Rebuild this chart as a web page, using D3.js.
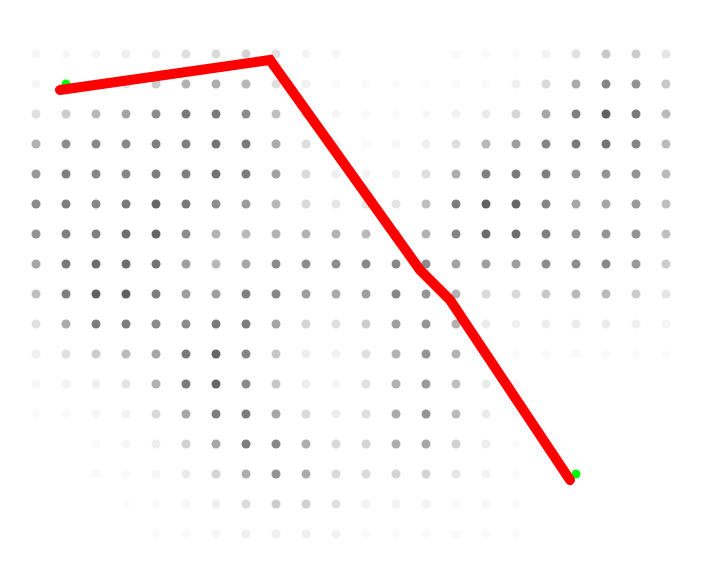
<!DOCTYPE html>
<html>
<head>
<meta charset="utf-8">
<script src="https://cdn.jsdelivr.net/npm/d3@7"></script>
<style>
html,body{margin:0;padding:0;background:#fff;}
svg{display:block;}
</style>
</head>
<body>
<svg id="chart" width="720" height="570"></svg>
<script>
// Grid of cell intensities (rows top to bottom, 22 columns each)
const columns = d3.range(22);
const rows = d3.range(17);
const intensity = [
  [0.03,0.03,0.04,0.06,0.08,0.12,0.15,0.17,0.12,0.04,0.03,0.00,0.00,0.00,0.02,0.02,0.02,0.05,0.12,0.22,0.20,0.10],
  [0.04,0.10,0.15,0.12,0.20,0.30,0.32,0.28,0.12,0.05,0.02,0.02,0.02,0.01,0.02,0.02,0.06,0.15,0.33,0.47,0.42,0.22],
  [0.12,0.20,0.28,0.36,0.45,0.52,0.52,0.45,0.25,0.12,0.04,0.02,0.02,0.03,0.05,0.08,0.16,0.35,0.50,0.62,0.52,0.27],
  [0.30,0.45,0.47,0.47,0.50,0.50,0.55,0.52,0.33,0.13,0.06,0.02,0.03,0.06,0.13,0.28,0.38,0.48,0.52,0.55,0.48,0.27],
  [0.40,0.50,0.48,0.48,0.50,0.50,0.55,0.51,0.37,0.15,0.06,0.05,0.05,0.13,0.32,0.50,0.52,0.50,0.42,0.42,0.42,0.27],
  [0.45,0.50,0.47,0.52,0.60,0.52,0.45,0.39,0.28,0.15,0.10,0.10,0.10,0.25,0.50,0.62,0.60,0.48,0.35,0.35,0.40,0.25],
  [0.42,0.50,0.50,0.57,0.60,0.45,0.30,0.28,0.30,0.30,0.30,0.28,0.30,0.30,0.48,0.58,0.57,0.50,0.42,0.42,0.42,0.25],
  [0.35,0.53,0.57,0.57,0.55,0.38,0.28,0.35,0.45,0.45,0.45,0.47,0.47,0.45,0.37,0.38,0.38,0.45,0.45,0.47,0.40,0.20],
  [0.25,0.50,0.62,0.62,0.50,0.38,0.38,0.50,0.47,0.38,0.33,0.38,0.47,0.42,0.30,0.15,0.15,0.22,0.28,0.28,0.20,0.10],
  [0.12,0.33,0.50,0.50,0.45,0.45,0.52,0.50,0.35,0.17,0.12,0.20,0.38,0.42,0.30,0.08,0.05,0.07,0.08,0.08,0.06,0.04],
  [0.06,0.12,0.20,0.27,0.35,0.52,0.60,0.48,0.22,0.07,0.05,0.12,0.30,0.42,0.30,0.10,0.02,0.02,0.02,0.02,0.02,0.01],
  [0.03,0.05,0.06,0.10,0.30,0.52,0.60,0.46,0.22,0.07,0.04,0.12,0.30,0.40,0.25,0.08,0.03,0.00,0.00,0.00,0.00,0.00],
  [0.02,0.02,0.03,0.05,0.15,0.35,0.50,0.51,0.35,0.15,0.07,0.13,0.33,0.42,0.27,0.08,0.02,0.00,0.00,0.00,0.00,0.00],
  [0.00,0.00,0.02,0.03,0.07,0.18,0.35,0.51,0.47,0.32,0.15,0.17,0.32,0.35,0.18,0.07,0.02,0.00,0.00,0.00,0.00,0.00],
  [0.00,0.00,0.02,0.02,0.03,0.08,0.17,0.32,0.42,0.33,0.15,0.15,0.17,0.17,0.10,0.05,0.02,0.00,0.00,0.00,0.00,0.00],
  [0.00,0.00,0.00,0.01,0.02,0.03,0.06,0.14,0.20,0.18,0.12,0.05,0.05,0.05,0.03,0.03,0.02,0.00,0.00,0.00,0.00,0.00],
  [0.00,0.00,0.00,0.00,0.02,0.02,0.03,0.06,0.06,0.06,0.05,0.02,0.02,0.02,0.02,0.02,0.02,0.00,0.00,0.00,0.00,0.00]
];
// Path (in grid units)
const pathCol = [0.8, 7.8, 12.8, 13.8, 17.8];
const pathRow = [1.2, 0.2, 7.2, 8.2, 14.2];
// Start and end markers (grid units)
const markerCol = [1, 18];
const markerRow = [1, 14];

const svg = d3.select("#chart");
const x = d3.scaleLinear().domain([0, 21]).range([36, 666]);
const y = d3.scaleLinear().domain([0, 16]).range([54, 534]);

const cells = [];
rows.forEach(r => columns.forEach(c => cells.push({r, c, v: intensity[r][c]})));

svg.append("g").selectAll("circle")
  .data(cells.filter(d => d.v > 0))
  .join("circle")
  .attr("cx", d => x(d.c))
  .attr("cy", d => y(d.r))
  .attr("r", 4.5)
  .attr("fill", "#000")
  .attr("fill-opacity", d => d.v);

svg.append("g").selectAll("circle")
  .data(markerCol.map((c, i) => ({c, r: markerRow[i]})))
  .join("circle")
  .attr("cx", d => x(d.c))
  .attr("cy", d => y(d.r))
  .attr("r", 4.5)
  .attr("fill", "#00ff00");

const line = d3.line().x(d => x(d[0])).y(d => y(d[1]));
svg.append("path")
  .datum(pathCol.map((c, i) => [c, pathRow[i]]))
  .attr("d", line)
  .attr("fill", "none")
  .attr("stroke", "#ff0000")
  .attr("stroke-width", 10)
  .attr("stroke-linecap", "round")
  .attr("stroke-linejoin", "miter");
</script>
</body>
</html>
